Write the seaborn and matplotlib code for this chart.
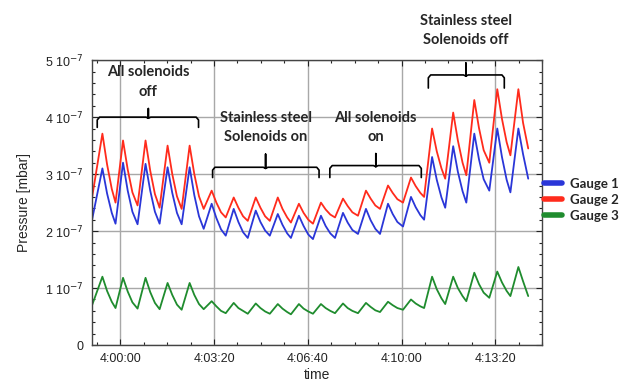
import numpy as np
import pandas as pd
import seaborn as sns
import matplotlib.pyplot as plt
from matplotlib.ticker import MultipleLocator, FuncFormatter
from matplotlib.lines import Line2D

# time in seconds relative to 4:00:00, pressure in units of 1e-7 mbar
time_s = [-60,
          -38, -28, -18, -10,
          6, 16, 26, 37,
          54, 64, 74, 84,
          101, 111, 121, 131,
          148, 158, 168, 178,
          195, 205, 215, 225,
          242, 252, 262, 272,
          289, 299, 309, 319,
          336, 346, 356, 364,
          381, 391, 401, 411,
          428, 438, 448, 458,
          475, 485, 495, 507,
          524, 534, 544, 554,
          571, 581, 591, 603,
          620, 630, 640, 648,
          665, 675, 685, 693,
          710, 720, 730, 738,
          755, 765, 775, 787,
          804, 814, 824, 832,
          849, 859, 870]

gauge1 = [2.20,
          3.10, 2.66, 2.32, 2.13,
          3.20, 2.71, 2.34, 2.12,
          3.18, 2.71, 2.34, 2.13,
          3.12, 2.67, 2.32, 2.12,
          3.12, 2.63, 2.26, 2.04,
          2.48, 2.23, 2.03, 1.92,
          2.39, 2.16, 1.98, 1.88,
          2.36, 2.16, 2.01, 1.92,
          2.30, 2.11, 1.96, 1.88,
          2.27, 2.09, 1.94, 1.86,
          2.27, 2.09, 1.96, 1.88,
          2.32, 2.15, 2.02, 1.95,
          2.39, 2.19, 2.04, 1.95,
          2.48, 2.30, 2.16, 2.08,
          2.60, 2.42, 2.28, 2.20,
          3.30, 2.90, 2.59, 2.41,
          3.49, 3.04, 2.70, 2.50,
          3.71, 3.26, 2.91, 2.71,
          3.80, 3.30, 2.90, 2.68,
          3.80, 3.35, 2.92]

gauge2 = [2.59,
          3.71, 3.17, 2.74, 2.50,
          3.59, 3.08, 2.68, 2.45,
          3.59, 3.06, 2.65, 2.41,
          3.50, 3.00, 2.61, 2.39,
          3.50, 3.00, 2.61, 2.39,
          2.71, 2.50, 2.33, 2.24,
          2.59, 2.41, 2.26, 2.18,
          2.59, 2.41, 2.26, 2.18,
          2.59, 2.39, 2.24, 2.15,
          2.48, 2.32, 2.20, 2.13,
          2.50, 2.38, 2.29, 2.24,
          2.57, 2.44, 2.33, 2.27,
          2.71, 2.57, 2.45, 2.39,
          2.80, 2.67, 2.56, 2.50,
          2.94, 2.79, 2.67, 2.60,
          3.80, 3.40, 3.10, 2.92,
          4.08, 3.59, 3.20, 2.98,
          4.30, 3.81, 3.42, 3.20,
          4.49, 3.97, 3.56, 3.33,
          4.49, 3.90, 3.45]

gauge3 = [0.70,
          1.20, 0.95, 0.76, 0.65,
          1.18, 0.94, 0.75, 0.64,
          1.18, 0.93, 0.74, 0.63,
          1.09, 0.88, 0.71, 0.62,
          1.09, 0.88, 0.72, 0.63,
          0.77, 0.68, 0.60, 0.56,
          0.74, 0.65, 0.60, 0.55,
          0.73, 0.65, 0.59, 0.55,
          0.72, 0.64, 0.58, 0.54,
          0.72, 0.64, 0.59, 0.55,
          0.72, 0.65, 0.60, 0.56,
          0.73, 0.65, 0.60, 0.56,
          0.74, 0.67, 0.61, 0.58,
          0.76, 0.70, 0.65, 0.62,
          0.80, 0.73, 0.68, 0.65,
          1.20, 0.98, 0.82, 0.72,
          1.20, 1.00, 0.86, 0.77,
          1.27, 1.07, 0.92, 0.83,
          1.29, 1.10, 0.95, 0.86,
          1.37, 1.12, 0.86]

gauge_names = ['Gauge 1', 'Gauge 2', 'Gauge 3']
colors = ['#2a36d8', '#ff2b1c', '#1f8c2e']

df = pd.DataFrame({
    'time': time_s * 3,
    'pressure': gauge1 + gauge2 + gauge3,
    'gauge': [g for g, vals in zip(gauge_names, [gauge1, gauge2, gauge3]) for _ in vals],
})

# annotations: (label, left, right, centre, line y, end y, spike y, text y)
notes = [
    ('All solenoids\noff', -49, 167, 60, 4.00, 3.82, 4.15, 4.62),
    ('Stainless steel\nSolenoids on', 197, 424, 310, 3.12, 2.94, 3.35, 3.82),
    ('All solenoids\non', 447, 642, 545, 3.15, 2.94, 3.36, 3.82),
    ('Stainless steel\nSolenoids off', 657, 819, 737, 4.74, 4.51, 4.95, 5.52),
]

sns.set_style('ticks')
plt.rcParams['font.family'] = ['Liberation Sans', 'DejaVu Sans']

fig = plt.figure(figsize=(6.35, 3.83), dpi=100)
ax = fig.add_axes([0.145, 0.099, 0.709, 0.744])

sns.lineplot(data=df, x='time', y='pressure', hue='gauge', palette=colors,
             linewidth=1.3, ax=ax, legend=False, sort=False)

ax.set_xlim(-60, 900)
ax.set_ylim(0, 5)
ax.xaxis.set_major_locator(MultipleLocator(200))
ax.xaxis.set_minor_locator(MultipleLocator(50))
ax.yaxis.set_major_locator(MultipleLocator(1))
ax.yaxis.set_minor_locator(MultipleLocator(0.2))


def fmt_time(v, pos):
    s = int(round(v)) + 4 * 3600
    return f"{s // 3600}:{(s % 3600) // 60:02d}:{s % 60:02d}"


def fmt_p(v, pos):
    n = int(round(v))
    return '0' if n == 0 else f"{n} 10$^{{-7}}$"


ax.xaxis.set_major_formatter(FuncFormatter(fmt_time))
ax.yaxis.set_major_formatter(FuncFormatter(fmt_p))
ax.tick_params(which='both', direction='in', top=True, right=True,
               labelsize=9, colors='#222222', width=0.8)
ax.tick_params(which='major', length=4, pad=6)
ax.tick_params(which='minor', length=2.5)
ax.grid(True, which='major', color='#a8a8a8', linewidth=1)
for sp in ax.spines.values():
    sp.set_color('#444444')
    sp.set_linewidth(1)

ax.set_xlabel('time', fontsize=10, labelpad=2)
ax.set_ylabel('Pressure [mbar]', fontsize=10, labelpad=10)

for label, x0, x1, xc, yl, ye, ys, yt in notes:
    d = 5
    ax.plot([x0, x0, x0 + d, xc - d, xc, xc, xc, xc + d, x1 - d, x1, x1],
            [ye, yl - 0.05, yl, yl, yl - 0.02, ys, yl - 0.02, yl, yl, yl - 0.05, ye],
            color='black', lw=1.2, clip_on=False)
    ax.text(xc, yt, label, ha='center', va='center', fontsize=10.5,
            fontweight='bold', family=['Lato', 'DejaVu Sans'],
            linespacing=1.5, clip_on=False)

handles = [Line2D([0], [0], color=c, lw=4) for c in colors]
leg = fig.legend(handles, gauge_names, loc='center left',
                 bbox_to_anchor=(0.852, 0.478), frameon=False,
                 handlelength=1.4, handletextpad=0.6, labelspacing=0.3,
                 borderaxespad=0, borderpad=0.2,
                 prop={'family': ['Lato', 'DejaVu Sans'], 'weight': 'bold', 'size': 9.5})

fig.savefig('out.png', dpi=100)
